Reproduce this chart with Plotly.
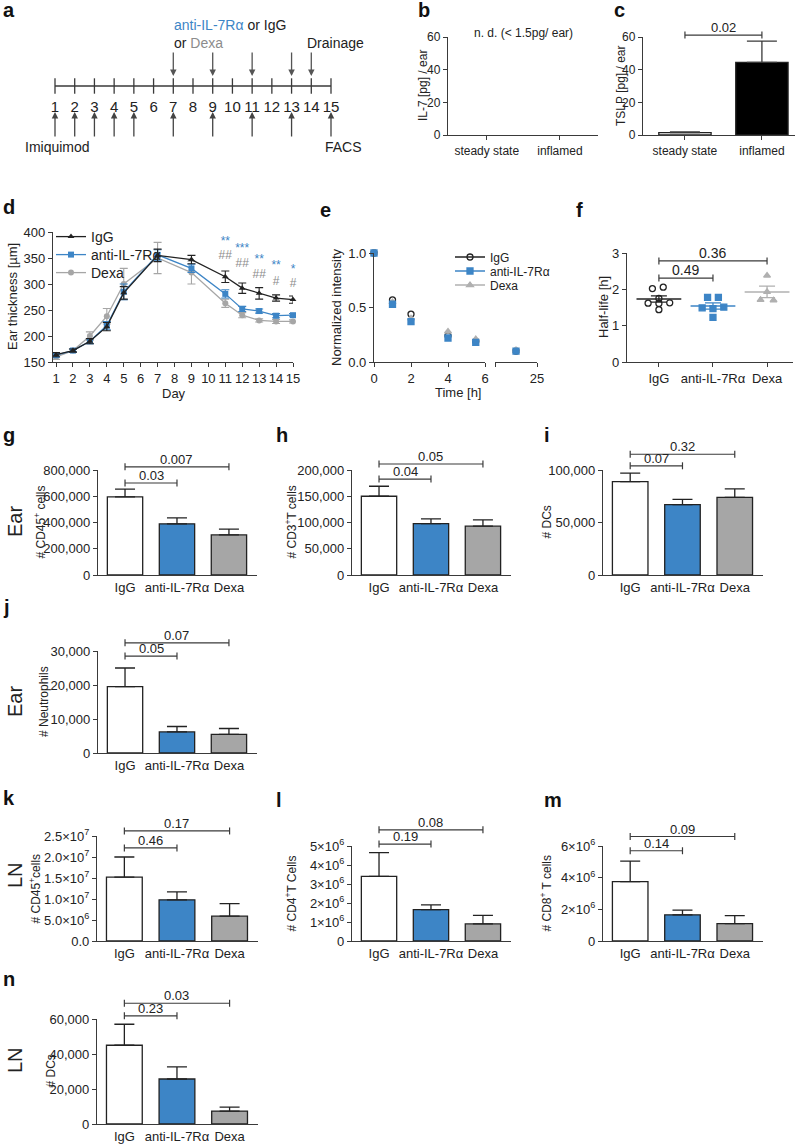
import numpy as np
import plotly.graph_objects as go

W, H = 799, 1145
def PX(x): return x / W
def PY(y): return 1 - y / H

FONT = "Arial, 'Liberation Sans', Helvetica, sans-serif"
INK = "#222222"
AXC = "#3a3a3a"
BLUE = "#3d85c6"
GRAY = "#a6a6a6"
LGRAY = "#b0b0b0"

# ---------------- data ----------------
timeline_days = list(range(1, 16))
imiquimod_days = [1, 2, 3, 4, 5, 7, 9, 11, 13, 15]
antibody_days = [7, 9, 11, 13]
drainage_days = [14]

bc_groups = ["steady state", "inflamed"]
il7_values = [None, None]
tslp_mean = [1.5, 44.5]
tslp_sem = [0.4, 13.0]
tslp_p = "0.02"

d_days = [1, 2, 3, 4, 5, 7, 9, 11, 12, 13, 14, 15]
d_igg = [164, 172, 190, 218, 283, 355, 347, 314, 292, 282, 273, 270]
d_igg_sem = [4, 3, 5, 8, 12, 12, 8, 11, 10, 11, 6, 7]
d_anti = [163, 172, 190, 220, 285, 356, 330, 281, 252, 248, 239, 240]
d_anti_sem = [4, 3, 5, 8, 15, 10, 8, 8, 5, 4, 4, 3]
d_dexa = [160, 172, 200, 238, 300, 350, 322, 263, 240, 230, 228, 228]
d_dexa_sem = [5, 3, 8, 15, 30, 30, 22, 8, 5, 3, 4, 3]
sig_days = [11, 12, 13, 14, 15]
sig_anti = ["**", "***", "**", "**", "*"]
sig_anti_y = [381, 367, 346, 334, 327]
sig_dexa = ["##", "##", "##", "#", "#"]
sig_dexa_y = [354, 338, 317, 304, 300]

e_time = [0, 1, 2, 4, 5.5, 24]
e_igg = [1.0, 0.57, 0.44, 0.24, 0.19, 0.10]
e_anti = [1.0, 0.53, 0.37, 0.22, 0.18, 0.10]
e_dexa = [1.0, 0.55, 0.40, 0.28, 0.21, 0.11]

f_groups = ["IgG", "anti-IL-7Rα", "Dexa"]
f_igg = [2.02, 2.06, 1.75, 1.62, 1.61, 1.63, 1.44]
f_anti = [1.78, 1.78, 1.49, 1.47, 1.51, 1.23]
f_dexa = [2.38, 1.93, 1.71, 1.70]
f_pvals = ["0.49", "0.36"]

cell_groups = ["IgG", "anti-IL-7Rα", "Dexa"]
g_cd45 = [595000, 390000, 305000]
g_cd45_sem = [60000, 45000, 45000]
g_p = ["0.03", "0.007"]
g_ticks = [0, 200000, 400000, 600000, 800000]

h_cd3 = [150000, 98000, 93000]
h_cd3_sem = [19000, 9000, 12000]
h_p = ["0.04", "0.05"]
h_ticks = [0, 50000, 100000, 150000, 200000]

i_dc = [89000, 67000, 74000]
i_dc_sem = [8000, 5000, 8000]
i_p = ["0.07", "0.32"]
i_ticks = [0, 50000, 100000]

j_neu = [19500, 6200, 5500]
j_neu_sem = [5500, 1600, 1700]
j_p = ["0.05", "0.07"]
j_ticks = [0, 10000, 20000, 30000]

k_cd45 = [1.52e7, 0.98e7, 0.59e7]
k_cd45_sem = [0.48e7, 0.19e7, 0.30e7]
k_p = ["0.46", "0.17"]
k_ticks = [0, 5e6, 1e7, 1.5e7, 2e7, 2.5e7]
k_ticktext = ["0.0", "5.0×10<sup>6</sup>", "1.0×10<sup>7</sup>", "1.5×10<sup>7</sup>",
              "2.0×10<sup>7</sup>", "2.5×10<sup>7</sup>"]

l_cd4 = [3.4e6, 1.65e6, 0.9e6]
l_cd4_sem = [1.25e6, 0.25e6, 0.45e6]
l_p = ["0.19", "0.08"]
l_ticks = [0, 1e6, 2e6, 3e6, 4e6, 5e6]
l_ticktext = ["0", "1×10<sup>6</sup>", "2×10<sup>6</sup>", "3×10<sup>6</sup>",
              "4×10<sup>6</sup>", "5×10<sup>6</sup>"]

m_cd8 = [3.75e6, 1.65e6, 1.1e6]
m_cd8_sem = [1.3e6, 0.3e6, 0.5e6]
m_p = ["0.14", "0.09"]
m_ticks = [0, 2e6, 4e6, 6e6]
m_ticktext = ["0", "2×10<sup>6</sup>", "4×10<sup>6</sup>", "6×10<sup>6</sup>"]

n_dc = [45000, 25700, 7400]
n_dc_sem = [12000, 6900, 2300]
n_p = ["0.23", "0.03"]
n_ticks = [0, 20000, 40000, 60000]

# ---------------- helpers ----------------
fig = go.Figure()
layout = {}
shapes = []
annos = []

def xr(n): return 'x' if n == 1 else f'x{n}'
def yr(n): return 'y' if n == 1 else f'y{n}'
def xkey(n): return 'xaxis' if n == 1 else f'xaxis{n}'
def ykey(n): return 'yaxis' if n == 1 else f'yaxis{n}'

def F(size): return dict(family=FONT, size=size, color=INK)

AX = dict(showline=True, linecolor=AXC, linewidth=1.3, ticks='outside', ticklen=4,
          tickwidth=1.2, tickcolor=AXC, showgrid=False, zeroline=False, fixedrange=True,
          tickangle=0, tickfont=F(13))

def axes(n, xpx, ypx, xrange, yrange, xkw=None, ykw=None):
    xa = dict(AX); xa.update(domain=[PX(xpx[0]), PX(xpx[1])], range=xrange, anchor=yr(n))
    if xkw: xa.update(xkw)
    ya = dict(AX); ya.update(domain=[PY(ypx[1]), PY(ypx[0])], range=yrange, anchor=xr(n))
    if ykw: ya.update(ykw)
    layout[xkey(n)] = xa
    layout[ykey(n)] = ya

def text(x, y, s, size=13, xanchor='center', yanchor='middle', angle=0, color=INK):
    annos.append(dict(x=x, y=y, xref='paper', yref='paper', text=s, showarrow=False,
                      xanchor=xanchor, yanchor=yanchor, textangle=angle,
                      font=dict(family=FONT, size=size, color=color)))

def letter(s, x, y):
    text(PX(x), PY(y), f'<b>{s}</b>', size=20, xanchor='left', color='#111')

def bracket(n, x0, x1, frac, label, size=13):
    xref = xr(n); yref = yr(n) + ' domain'
    ln = dict(color=AXC, width=1.2)
    shapes.append(dict(type='line', xref=xref, yref=yref, x0=x0, x1=x1, y0=frac, y1=frac, line=ln))
    for xc in (x0, x1):
        shapes.append(dict(type='line', xref=xref, yref=yref, x0=xc, x1=xc, ysizemode='pixel',
                           yanchor=frac, y0=-3.5, y1=3.5, line=ln))
    annos.append(dict(xref=xref, yref=yref, x=(x0 + x1) / 2, y=frac, text=label, showarrow=False,
                      xanchor='center', yanchor='bottom', yshift=-2, font=F(size)))

def legend_box(key, x, y, size):
    layout[key] = dict(x=PX(x), y=PY(y), xanchor='left', yanchor='middle', bgcolor='rgba(0,0,0,0)',
                       font=F(size), itemwidth=30, tracegroupgap=0, borderwidth=0)

# ---------------- a: timeline ----------------
axes(1, (55, 331), (76, 96), [timeline_days[0], timeline_days[-1]], [-1, 1],
     xkw=dict(showline=False, ticks='', tickvals=timeline_days, tickfont=F(15)),
     ykw=dict(visible=False))
fig.add_trace(go.Scatter(x=[timeline_days[0], timeline_days[-1]], y=[0, 0], mode='lines',
                         line=dict(color=AXC, width=1.3), xaxis='x', yaxis='y',
                         showlegend=False, hoverinfo='skip'))
fig.add_trace(go.Scatter(x=timeline_days, y=[0] * len(timeline_days), mode='markers',
                         marker=dict(symbol='line-ns', size=11, line=dict(color=AXC, width=1.3)),
                         cliponaxis=False, xaxis='x', yaxis='y', showlegend=False, hoverinfo='skip'))
for d in imiquimod_days:
    annos.append(dict(x=d, xref='x', y=PY(112), yref='paper', ax=0, ay=26, text='',
                      showarrow=True, arrowhead=2, arrowsize=1, arrowwidth=1.3, arrowcolor='#444'))
for d in antibody_days + drainage_days:
    annos.append(dict(x=d, xref='x', y=PY(76), yref='paper', ax=0, ay=-25, text='',
                      showarrow=True, arrowhead=2, arrowsize=1, arrowwidth=1.3, arrowcolor='#555'))
text(PX(58), PY(147), 'Imiquimod', size=14)
text(PX(343), PY(147), 'FACS', size=14)
text(PX(172), PY(25), f'<span style="color:{BLUE}">anti-IL-7Rα</span> or IgG', size=14, xanchor='left')
text(PX(172), PY(43), 'or <span style="color:#8c8c8c">Dexa</span>', size=14, xanchor='left')
text(PX(335), PY(43), 'Drainage', size=14)
letter('a', 1, 10)

# ---------------- b: IL-7 ----------------
axes(2, (448, 598), (37, 135), [-0.53, 1.52], [0, 60],
     xkw=dict(tickvals=list(range(len(bc_groups))), ticktext=bc_groups, tickfont=F(12)),
     ykw=dict(tickvals=[0, 20, 40, 60], tickfont=F(12)))
fig.add_trace(go.Scatter(x=list(range(len(bc_groups))), y=il7_values, mode='markers',
                         xaxis='x2', yaxis='y2', showlegend=False, hoverinfo='skip'))
text(PX(523), PY(33), 'n. d. (< 1.5pg/ ear)', size=12)
text(PX(423), PY(86), 'IL-7 [pg] / ear', size=12, angle=-90)
letter('b', 416, 10)

# ---------------- c: TSLP ----------------
axes(3, (643, 795), (37, 135), [-0.545, 1.43], [0, 60],
     xkw=dict(tickvals=list(range(len(bc_groups))), ticktext=bc_groups, tickfont=F(12)),
     ykw=dict(tickvals=[0, 20, 40, 60], tickfont=F(12)))
fig.add_trace(go.Bar(x=list(range(len(bc_groups))), y=tslp_mean, width=0.68,
                     marker=dict(color=['white', '#000000'], line=dict(color=INK, width=1.3)),
                     error_y=dict(type='data', symmetric=False, array=tslp_sem, arrayminus=[0, 0],
                                  color=AXC, thickness=1.3, width=15),
                     xaxis='x3', yaxis='y3', showlegend=False, hoverinfo='skip'))
bracket(3, 0, 1, 1.02, tslp_p)
text(PX(621), PY(86), 'TSLP [pg] / ear', size=12, angle=-90)
letter('c', 612, 10)

# ---------------- d: ear thickness ----------------
axes(4, (53, 293), (232, 362), [0.82, 15], [150, 400],
     xkw=dict(tickvals=timeline_days),
     ykw=dict(tickvals=list(range(150, 401, 50))))
d_series = [("IgG", d_igg, d_igg_sem, INK, 'triangle-up', 'legend'),
            ("anti-IL-7Rα", d_anti, d_anti_sem, BLUE, 'square', 'legend2'),
            ("Dexa", d_dexa, d_dexa_sem, GRAY, 'circle', 'legend3')]
for name, ys, es, color, sym, leg in reversed(d_series):
    fig.add_trace(go.Scatter(x=d_days, y=ys, mode='lines+markers', name=name,
                             error_y=dict(type='data', array=es, color=color, thickness=1.1, width=4),
                             line=dict(color=color, width=1.3), marker=dict(symbol=sym, size=6, color=color),
                             xaxis='x4', yaxis='y4', legend=leg, cliponaxis=False, hoverinfo='skip'))
fig.add_trace(go.Scatter(x=sig_days, y=sig_anti_y, text=sig_anti, mode='text',
                         textfont=dict(family=FONT, size=12, color=BLUE), xaxis='x4', yaxis='y4',
                         showlegend=False, cliponaxis=False, hoverinfo='skip'))
fig.add_trace(go.Scatter(x=sig_days, y=sig_dexa_y, text=sig_dexa, mode='text',
                         textfont=dict(family=FONT, size=12, color='#8c8c8c'), xaxis='x4', yaxis='y4',
                         showlegend=False, cliponaxis=False, hoverinfo='skip'))
legend_box('legend', 51, 237, 14)
legend_box('legend2', 51, 255, 14)
legend_box('legend3', 51, 273, 14)
text(PX(13), PY(297), 'Ear thickness [µm]', size=13, angle=-90)
text(PX(174), PY(393), 'Day', size=13)
letter('d', 1, 207)

# ---------------- e: normalized intensity ----------------
axes(5, (374, 485), (253, 362), [0, 6], [0, 1],
     xkw=dict(tickvals=[0, 2, 4, 6]),
     ykw=dict(tickvals=[0, 0.5, 1.0], tickformat='.1f'))
layout['xaxis6'] = dict(AX, domain=[PX(495), PX(537)], range=[23, 25], anchor='y5',
                        tickvals=[23, 25], ticktext=['', '25'])
t = np.array(e_time)
early = t <= 6
e_series = [("IgG", e_igg, INK, 'circle-open', 'legend4'),
            ("anti-IL-7Rα", e_anti, BLUE, 'square', 'legend5'),
            ("Dexa", e_dexa, LGRAY, 'triangle-up', 'legend6')]
for name, vals, color, sym, leg in [e_series[0], e_series[2], e_series[1]]:
    v = np.array(vals)
    for mask, xa in ((early, 'x5'), (~early, 'x6')):
        fig.add_trace(go.Scatter(x=t[mask], y=v[mask], mode='markers',
                                 marker=dict(symbol=sym, size=6, color=color, line=dict(color=color, width=1.3)),
                                 xaxis=xa, yaxis='y5', showlegend=False, cliponaxis=False, hoverinfo='skip'))
for name, vals, color, sym, leg in e_series:
    fig.add_trace(go.Scatter(x=[None], y=[None], mode='lines+markers', name=name,
                             line=dict(color=color, width=1.3),
                             marker=dict(symbol=sym, size=6, color=color, line=dict(color=color, width=1.3)),
                             xaxis='x5', yaxis='y5', legend=leg, hoverinfo='skip'))
legend_box('legend4', 450, 257, 12)
legend_box('legend5', 450, 271, 12)
legend_box('legend6', 450, 285, 12)
text(PX(336), PY(307), 'Normalized intensity', size=13, angle=-90)
text(PX(458), PY(392), 'Time [h]', size=13)
letter('e', 318, 210)

# ---------------- f: half-life ----------------
axes(7, (627, 793), (253, 362), [-0.59, 2.48], [0, 3],
     xkw=dict(tickvals=list(range(len(f_groups))), ticktext=f_groups),
     ykw=dict(tickvals=[0, 1, 2, 3]))
f_dx = [[-0.12, 0.08, 0.0, -0.2, 0.0, 0.2, 0.0],
        [-0.1, 0.1, -0.2, 0.0, 0.2, 0.0],
        [0.0, 0.0, -0.12, 0.12]]
f_style = [(INK, 'circle-open'), (BLUE, 'square'), (LGRAY, 'triangle-up')]
for gi, vals in enumerate([f_igg, f_anti, f_dexa]):
    color, sym = f_style[gi]
    v = np.array(vals)
    fig.add_trace(go.Scatter(x=gi + np.array(f_dx[gi]), y=v, mode='markers',
                             marker=dict(symbol=sym, size=6, color=color, line=dict(color=color, width=1.3)),
                             xaxis='x7', yaxis='y7', showlegend=False, cliponaxis=False, hoverinfo='skip'))
    mean = v.mean(); sem = v.std(ddof=1) / np.sqrt(len(v))
    fig.add_trace(go.Scatter(x=[gi], y=[mean], mode='markers',
                             marker=dict(symbol='line-ew', size=32, color=color, line=dict(color=color, width=1.5)),
                             error_y=dict(type='data', array=[sem], color=color, thickness=1.3, width=8),
                             xaxis='x7', yaxis='y7', showlegend=False, cliponaxis=False, hoverinfo='skip'))
bracket(7, 0, 1, 0.77, f_pvals[0], size=14)
bracket(7, 0, 2, 0.927, f_pvals[1], size=14)
text(PX(603), PY(307), 'Half-life [h]', size=13, angle=-90)
letter('f', 574, 210)

# ---------------- bar panels g-n ----------------
BAR_COLORS = ['white', BLUE, GRAY]
def bar_panel(n, means, sems, pvals, xpx, ypx, ymax, tickvals, ticktext, fracs, ylabel, ylabel_x):
    pos = list(range(len(cell_groups)))
    ykw = dict(tickvals=tickvals)
    if ticktext is None:
        ykw['tickformat'] = ','
    else:
        ykw['ticktext'] = ticktext
    axes(n, xpx, ypx, [-0.52, 2.54], [0, ymax],
         xkw=dict(tickvals=pos, ticktext=cell_groups, ticks=''), ykw=ykw)
    fig.add_trace(go.Bar(x=pos, y=means, width=0.68,
                         marker=dict(color=BAR_COLORS, line=dict(color=INK, width=1.3)),
                         error_y=dict(type='data', symmetric=False, array=sems, arrayminus=[0] * len(sems),
                                      color=INK, thickness=1.3, width=10),
                         xaxis=xr(n), yaxis=yr(n), showlegend=False, hoverinfo='skip'))
    for (a, b), p, fr in zip([(0, 1), (0, 2)], pvals, fracs):
        bracket(n, a, b, fr, p)
    text(PX(ylabel_x), PY((ypx[0] + ypx[1]) / 2), ylabel, size=12, angle=-90)

bar_panel(8, g_cd45, g_cd45_sem, g_p, (98, 257), (470, 575), g_ticks[-1], g_ticks, None,
          [0.876, 1.03], '# CD45<sup>+</sup> cells', 39)
bar_panel(9, h_cd3, h_cd3_sem, h_p, (352, 511), (470, 575), h_ticks[-1], h_ticks, None,
          [0.914, 1.057], '# CD3<sup>+</sup>T cells', 290)
bar_panel(11, i_dc, i_dc_sem, i_p, (603, 763), (470, 575), i_ticks[-1], i_ticks, None,
          [1.04, 1.15], '# DCs', 546)
bar_panel(12, j_neu, j_neu_sem, j_p, (98, 257), (651, 753), j_ticks[-1], j_ticks, None,
          [0.95, 1.08], '# Neutrophils', 44)
bar_panel(13, k_cd45, k_cd45_sem, k_p, (97, 258), (836, 941), k_ticks[-1], k_ticks, k_ticktext,
          [0.886, 1.048], '# CD45<sup>+</sup>cells', 34)
bar_panel(14, l_cd4, l_cd4_sem, l_p, (352, 511), (846, 941), l_ticks[-1], l_ticks, l_ticktext,
          [1.02, 1.17], '# CD4<sup>+</sup>T Cells', 290)
bar_panel(15, m_cd8, m_cd8_sem, m_p, (603, 763), (846, 941), m_ticks[-1], m_ticks, m_ticktext,
          [0.95, 1.1], '# CD8<sup>+</sup> T cells', 545)
bar_panel(16, n_dc, n_dc_sem, n_p, (97, 258), (1019, 1124), n_ticks[-1], n_ticks, None,
          [1.03, 1.15], '# DCs', 50)

letter('g', 1, 435); letter('h', 274, 435); letter('i', 542, 435)
letter('j', 1, 607)
letter('k', 1, 798); letter('l', 274, 800); letter('m', 542, 800)
letter('n', 1, 979)

text(PX(15), PY(522), 'Ear', size=20, angle=-90)
text(PX(15), PY(702), 'Ear', size=20, angle=-90)
text(PX(15), PY(875), 'LN', size=20, angle=-90)
text(PX(15), PY(1060), 'LN', size=20, angle=-90)

fig.update_layout(template='none', width=W, height=H, margin=dict(l=0, r=0, t=0, b=0),
                  paper_bgcolor='white', plot_bgcolor='rgba(0,0,0,0)', hovermode=False,
                  font=dict(family=FONT, size=13, color=INK), showlegend=True,
                  shapes=shapes, annotations=annos, **layout)
fig.write_html("out.html", config={'displayModeBar': False},
               post_script="document.body.style.margin='0';")
